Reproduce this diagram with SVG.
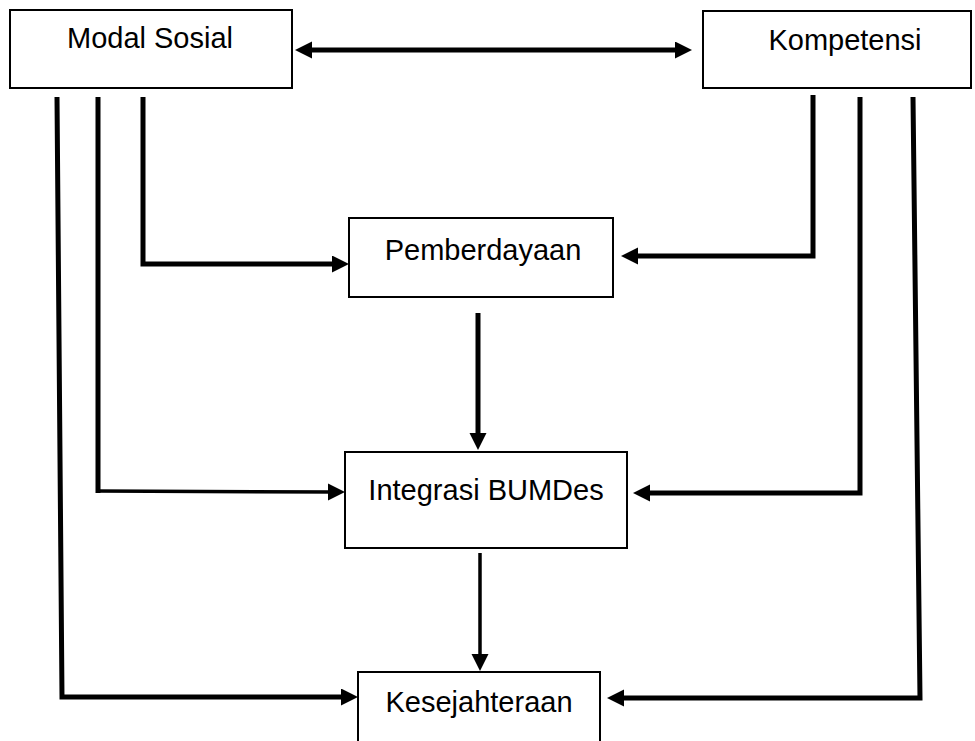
<svg xmlns="http://www.w3.org/2000/svg" width="975" height="741" viewBox="0 0 975 741">
  <style>
    .box { fill: #ffffff; stroke: #000000; stroke-width: 2; }
    .label { font-family: "Liberation Sans", Arial, sans-serif; font-size: 29px; fill: #000000; text-anchor: middle; }
    .wire { fill: none; stroke: #000000; stroke-linejoin: miter; stroke-linecap: butt; }
    .heavy { stroke-width: 5; }
    .light { stroke-width: 3.5; }
  </style>
  <defs>
    <marker id="head" markerUnits="userSpaceOnUse" markerWidth="18" markerHeight="18" viewBox="0 0 18 18" refX="8" refY="8.5" orient="auto-start-reverse">
      <path d="M0,0 L17,8.5 L0,17 Z" fill="#000000"/>
    </marker>
  </defs>

  <rect width="975" height="741" fill="#ffffff"/>

  <!-- connectors -->
  <g id="connectors">
    <!-- Modal Sosial <-> Kompetensi -->
    <line class="wire heavy" x1="304" y1="50" x2="683" y2="50" marker-start="url(#head)" marker-end="url(#head)"/>
    <!-- Modal Sosial -> Pemberdayaan -->
    <polyline class="wire heavy" points="143,97 143,264 340,264" marker-end="url(#head)"/>
    <!-- Modal Sosial -> Integrasi BUMDes (heavy drop, lighter run) -->
    <line class="wire heavy" x1="98" y1="97" x2="98" y2="493"/>
    <line class="wire light" x1="96" y1="491" x2="336" y2="492" marker-end="url(#head)"/>
    <!-- Modal Sosial -> Kesejahteraan -->
    <polyline class="wire heavy" points="57,97 62,697 349,697" marker-end="url(#head)"/>
    <!-- Kompetensi -> Pemberdayaan -->
    <polyline class="wire heavy" points="813,95 813,256 630,256" marker-end="url(#head)"/>
    <!-- Kompetensi -> Integrasi BUMDes -->
    <polyline class="wire heavy" points="860,97 860,493 642,493" marker-end="url(#head)"/>
    <!-- Kompetensi -> Kesejahteraan -->
    <polyline class="wire heavy" points="913,97 920,698 616,698" marker-end="url(#head)"/>
    <!-- Pemberdayaan -> Integrasi BUMDes -->
    <line class="wire heavy" x1="478" y1="313" x2="478" y2="441" marker-end="url(#head)"/>
    <!-- Integrasi BUMDes -> Kesejahteraan -->
    <line class="wire light" x1="480" y1="553" x2="480" y2="662" marker-end="url(#head)"/>
  </g>

  <!-- nodes -->
  <g id="modal-sosial">
    <rect class="box" x="10" y="10" width="282" height="78"/>
    <text class="label" x="150" y="48">Modal Sosial</text>
  </g>
  <g id="kompetensi">
    <rect class="box" x="703" y="11" width="268" height="77"/>
    <text class="label" x="845" y="50">Kompetensi</text>
  </g>
  <g id="pemberdayaan">
    <rect class="box" x="349" y="218" width="264" height="79"/>
    <text class="label" x="483" y="260">Pemberdayaan</text>
  </g>
  <g id="integrasi-bumdes">
    <rect class="box" x="345" y="452" width="282" height="96"/>
    <text class="label" x="486" y="500">Integrasi BUMDes</text>
  </g>
  <g id="kesejahteraan">
    <rect class="box" x="358" y="672" width="242" height="80"/>
    <text class="label" x="479" y="712">Kesejahteraan</text>
  </g>
</svg>
